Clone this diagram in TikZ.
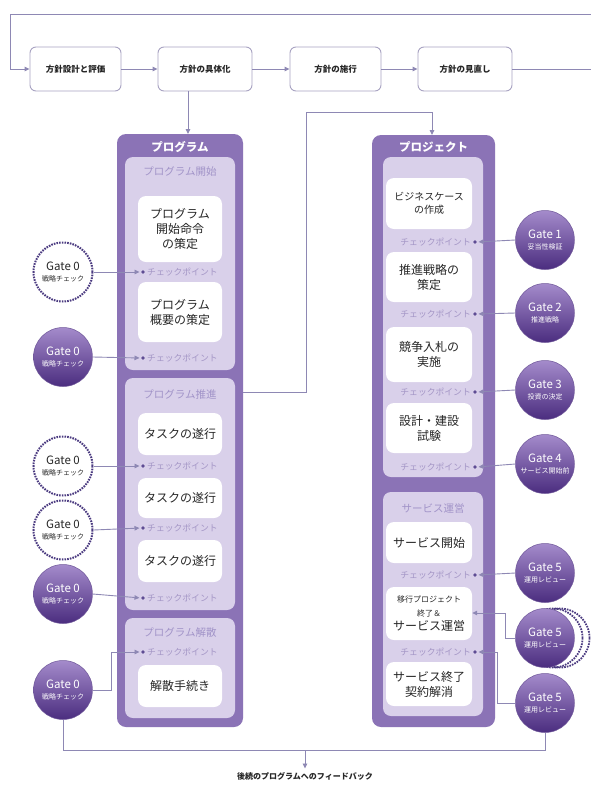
\documentclass[tikz,border=0pt]{standalone}
\usepackage{fontspec}
\setmainfont{Noto Sans CJK JP}
\usetikzlibrary{arrows.meta,calc}
\definecolor{panel}{HTML}{8B73B6}
\definecolor{subpanel}{HTML}{D9D0EA}
\definecolor{sublabel}{HTML}{A193C8}
\definecolor{cptext}{HTML}{A496C6}
\definecolor{cpdot}{HTML}{5E4C93}
\definecolor{lineclr}{HTML}{8E88B4}
\definecolor{topline}{HTML}{A8A3C2}
\definecolor{gatetop}{HTML}{A48BCB}
\definecolor{gatebot}{HTML}{4B2D7F}
\definecolor{gateedge}{HTML}{4A3A80}
\definecolor{inktext}{HTML}{262626}
\tikzset{
  fs/.style={font=\fontsize{#1}{\dimexpr#1pt*5/4\relax}\selectfont},
  topbox/.style={draw=topline, line width=0.9pt, fill=white, rounded corners=6pt,
    minimum height=44pt, inner sep=0pt, text=inktext, font=\fontsize{8.5}{10}\selectfont\bfseries},
  outerpanel/.style={fill=panel, rounded corners=9pt},
  innerpanel/.style={fill=subpanel, rounded corners=8pt},
  taskbox/.style={fill=white, rounded corners=8pt, minimum width=84pt, inner sep=0pt,
    align=center, text=inktext, fs=12},
  panelhead/.style={text=white, font=\fontsize{11.5}{13}\selectfont\bfseries},
  sublbl/.style={text=sublabel, fs=10.5},
  cplbl/.style={text=cptext, fs=8.8, inner sep=0pt},
  cpmark/.style={circle, fill=cpdot, minimum size=3.6pt, inner sep=0pt},
  conn/.style={draw=lineclr, line width=0.9pt, -{Triangle[length=5pt,width=4.5pt]}},
  plain/.style={draw=lineclr, line width=0.9pt},
  gatefull/.style={circle, minimum size=59pt, inner sep=0pt, top color=gatetop,
    bottom color=gatebot, draw=gatebot!80, line width=0.5pt, text=white, align=center},
  gateopen/.style={circle, minimum size=59pt, inner sep=0pt, fill=white, draw=gateedge,
    line width=2pt, dash pattern=on 1.6pt off 1.1pt, text=inktext, align=center},
  gatering/.style={circle, minimum size=59pt, inner sep=0pt, draw=gateedge,
    line width=1.8pt, dash pattern=on 1.6pt off 1.1pt},
}
\newcommand{\gatetxt}[2]{{\fontsize{11.5}{12.5}\selectfont #1}\\[-1pt]{\fontsize{7}{7.5}\selectfont #2}}
\begin{document}
\begin{tikzpicture}[x=1pt,y=-1pt]
\useasboundingbox (0,0) rectangle (591,785);
\fill[white] (0,0) rectangle (591,785);

% ---- policy cycle along the top
\node[topbox, minimum width=91pt] (t1) at (75.5,69) {方針設計と評価};
\node[topbox, minimum width=94pt] (t2) at (205,69) {方針の具体化};
\node[topbox, minimum width=91pt] (t3) at (335.5,69) {方針の施行};
\node[topbox, minimum width=94pt] (t4) at (465,69) {方針の見直し};
\coordinate (loopR) at (591,69);
\coordinate (loopTR) at (591,14);
\coordinate (loopTL) at (10,14);
\coordinate (loopBL) at (10,69);
\draw[conn] (t1) -- (t2);
\draw[conn] (t2) -- (t3);
\draw[conn] (t3) -- (t4);
\draw[plain] (t4) -- (loopR);
\draw[conn] (loopTR) -- (loopTL) -- (loopBL) -- (t1.west);

% ---- programme column
\node[outerpanel, minimum width=126pt, minimum height=593pt] (prog) at (180,430.5) {};
\node[panelhead] (progh) at (180,147) {プログラム};
\node[innerpanel, minimum width=110pt, minimum height=213pt] (pa) at (180,263.5) {};
\node[sublbl] (pal) at (180,172) {プログラム開始};
\node[taskbox, minimum height=66pt] (pa1) at (180,229) {プログラム\\開始命令\\の策定};
\node[taskbox, minimum height=60pt] (pa2) at (180,312) {プログラム\\概要の策定};
\node[innerpanel, minimum width=110pt, minimum height=232pt] (pb) at (180,494) {};
\node[sublbl] (pbl) at (180,394) {プログラム推進};
\node[taskbox, minimum height=42pt] (pb1) at (180,434) {タスクの遂行};
\node[taskbox, minimum height=40pt] (pb2) at (180,498) {タスクの遂行};
\node[taskbox, minimum height=42pt] (pb3) at (180,561) {タスクの遂行};
\node[innerpanel, minimum width=110pt, minimum height=100pt] (pc) at (180,668) {};
\node[sublbl] (pcl) at (180,633) {プログラム解散};
\node[taskbox, minimum height=42pt] (pc1) at (180,686) {解散手続き};

% programme checkpoints
\foreach \nm/\yy in {c1/272, c2/358, c3/466, c4/528, c5/598, c6/652}{
  \node[cpmark] (\nm) at (143,\yy) {};
  \node[cplbl, anchor=west] (\nm t) at (147,\yy) {チェックポイント};
}

% ---- project column
\node[outerpanel, minimum width=123pt, minimum height=592pt] (proj) at (433.5,431) {};
\node[panelhead] (projh) at (433.5,147) {プロジェクト};
\node[innerpanel, minimum width=100pt, minimum height=320pt] (qa) at (433,317) {};
\node[taskbox, minimum width=86pt, minimum height=51pt, fs=10] (qa1) at (429,203.5) {ビジネスケース\\の作成};
\node[taskbox, minimum width=86pt, minimum height=50pt] (qa2) at (429,277) {推進戦略の\\策定};
\node[taskbox, minimum width=86pt, minimum height=55pt] (qa3) at (429,354.5) {競争入札の\\実施};
\node[taskbox, minimum width=86pt, minimum height=50pt] (qa4) at (429,428) {設計・建設\\試験};
\node[innerpanel, minimum width=100pt, minimum height=224pt] (qb) at (433,604) {};
\node[sublbl] (qbl) at (433,508) {サービス運営};
\node[taskbox, minimum width=86pt, minimum height=41pt] (qb1) at (429,542.5) {サービス開始};
\node[taskbox, minimum width=86pt, minimum height=53pt] (qb2) at (429,613.5)
  {{\fontsize{8}{9.5}\selectfont 移行プロジェクト}\\[-1pt]{\fontsize{8}{9}\selectfont 終了＆}\\[-1pt]サービス運営};
\node[taskbox, minimum width=86pt, minimum height=44pt] (qb3) at (429,684) {サービス終了\\契約解消};

% project checkpoints
\foreach \nm/\yy in {d1/242, d2/314, d3/392, d4/467, d5/575, d6/652}{
  \node[cpmark] (\nm) at (475,\yy) {};
  \node[cplbl, anchor=east] (\nm t) at (471,\yy) {チェックポイント};
}

% ---- hand-offs between the columns
\coordinate (pj1) at (306,392);
\coordinate (pj2) at (306,112);
\coordinate (pj3) at (432,112);
\draw[conn] (188,91) -- (188,134);
\draw[conn] (243,392) -- (pj1) -- (pj2) -- (pj3) -- (432,135);

% ---- Gate 0 reviews on the programme side
\node[gateopen] (ga) at (63,272) {\gatetxt{Gate 0}{戦略チェック}};
\node[gatefull] (gb) at (63,357) {\gatetxt{Gate 0}{戦略チェック}};
\node[gateopen] (gc) at (63,466) {\gatetxt{Gate 0}{戦略チェック}};
\node[gateopen] (gd) at (63,530) {\gatetxt{Gate 0}{戦略チェック}};
\node[gatefull] (ge) at (63,594) {\gatetxt{Gate 0}{戦略チェック}};
\node[gatefull] (gf) at (63,690) {\gatetxt{Gate 0}{戦略チェック}};
\draw[conn, shorten >=1.5pt] (ga.east) -- (c1.west);
\draw[conn, shorten >=1.5pt] (gb.east) -- (c2.west);
\draw[conn, shorten >=1.5pt] (gc.east) -- (c3.west);
\draw[conn, shorten >=1.5pt] (gd.east) -- (c4.west);
\draw[conn, shorten >=1.5pt] (ge.east) -- (c5.west);
\coordinate (gfk1) at (111,690);
\coordinate (gfk2) at (111,652);
\draw[conn, shorten >=1.5pt] (gf.east) -- (gfk1) -- (gfk2) -- (c6.west);

% ---- Gates 1 to 5 on the project side
\node[gatering] (rg1) at (560,638) {};
\node[gatering] (rg2) at (553,638) {};
\node[gatefull] (h1) at (545,240) {\gatetxt{Gate 1}{妥当性検証}};
\node[gatefull] (h2) at (545,313) {\gatetxt{Gate 2}{推進戦略}};
\node[gatefull] (h3) at (545,390) {\gatetxt{Gate 3}{投資の決定}};
\node[gatefull] (h4) at (545,464) {\gatetxt{Gate 4}{サービス開始前}};
\node[gatefull] (h5) at (545,573) {\gatetxt{Gate 5}{運用レビュー}};
\node[gatefull] (h6) at (545,638) {\gatetxt{Gate 5}{運用レビュー}};
\node[gatefull] (h7) at (545,703) {\gatetxt{Gate 5}{運用レビュー}};
\draw[conn, shorten >=1.5pt] (h1.west) -- (d1.east);
\draw[conn, shorten >=1.5pt] (h2.west) -- (d2.east);
\draw[conn, shorten >=1.5pt] (h3.west) -- (d3.east);
\draw[conn, shorten >=1.5pt] (h4.west) -- (d4.east);
\draw[conn, shorten >=1.5pt] (h5.west) -- (d5.east);
\coordinate (h6k1) at (505,638);
\coordinate (h6k2) at (505,613);
\draw[conn] (h6.west) -- (h6k1) -- (h6k2) -- (qb2.east |- h6k2);
\coordinate (h7k1) at (497,703);
\coordinate (h7k2) at (497,652);
\draw[conn, shorten >=1.5pt] (h7.west) -- (h7k1) -- (h7k2) -- (d6.east);

% ---- feedback to later programmes
\node[text=inktext, font=\fontsize{8}{10}\selectfont\bfseries] (fb) at (305,776) {後続のプログラムへのフィードバック};
\coordinate (fbL) at (63,750);
\coordinate (fbR) at (545,750);
\coordinate (fbM) at (305,750);
\draw[plain] (gf.south) -- (fbL) -- (fbR) -- (h7.south);
\draw[conn] (fbM) -- (fb.north);
\end{tikzpicture}
\end{document}
